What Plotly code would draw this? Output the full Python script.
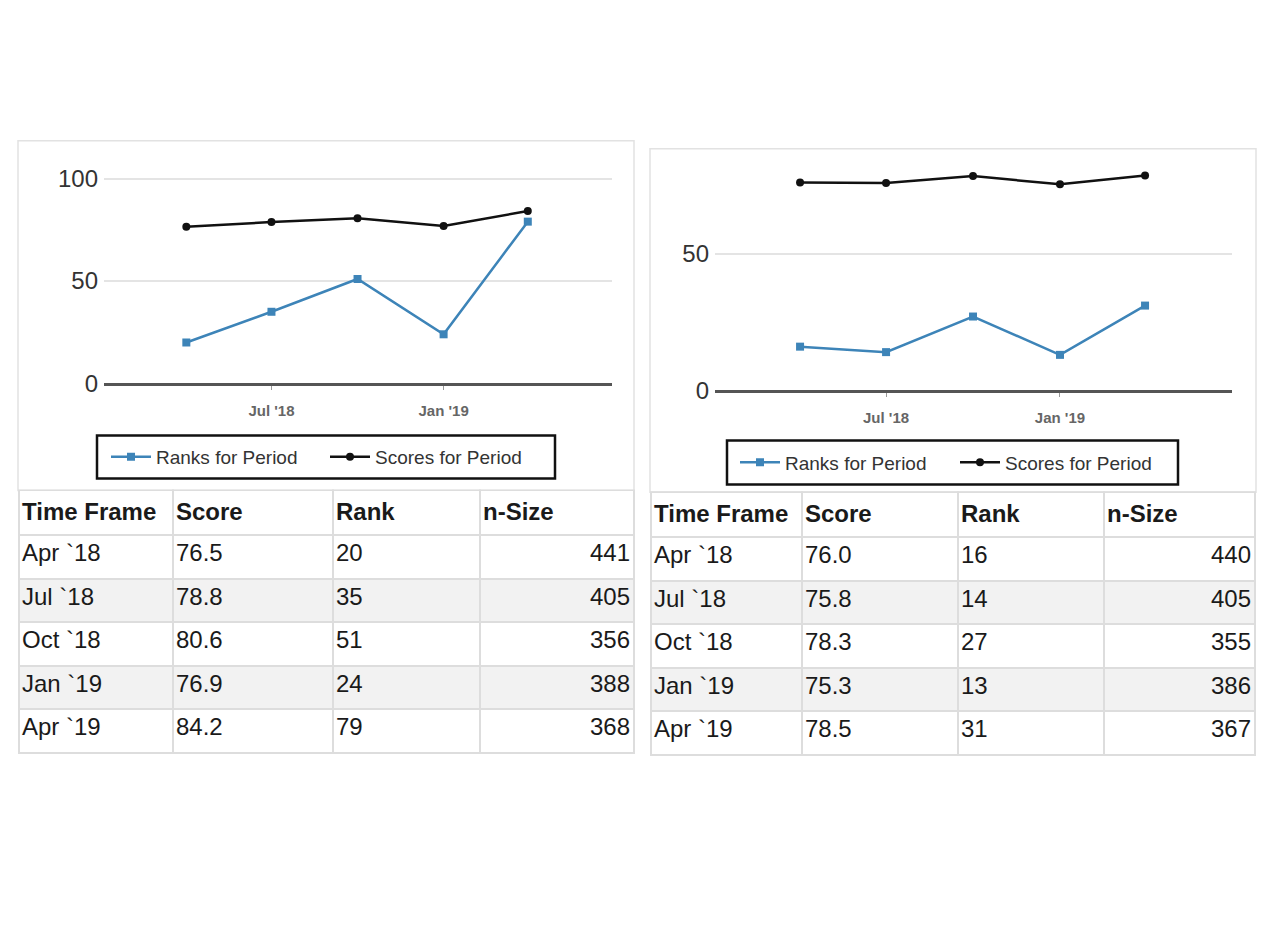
import plotly.graph_objects as go

# ---------------- data ----------------
period_dates = ["2018-04-01", "2018-07-01", "2018-10-01", "2019-01-01", "2019-04-01"]
time_frames = ["Apr `18", "Jul `18", "Oct `18", "Jan `19", "Apr `19"]

left_scores = [76.5, 78.8, 80.6, 76.9, 84.2]
left_ranks = [20, 35, 51, 24, 79]
left_nsize = [441, 405, 356, 388, 368]

right_scores = [76.0, 75.8, 78.3, 75.3, 78.5]
right_ranks = [16, 14, 27, 13, 31]
right_nsize = [440, 405, 355, 386, 367]

x_tick_vals = ["2018-07-01", "2019-01-01"]
x_tick_text = ["Jul '18", "Jan '19"]
left_y_ticks = [0, 50, 100]
right_y_ticks = [0, 50]
table_header = ["Time Frame", "Score", "Rank", "n-Size"]
series_names = ["Ranks for Period", "Scores for Period"]

# ---------------- layout helpers ----------------
PAGE_OFF = 8
W, H = 1262, 900
Y_REF, Y_SCALE = 140, 0.983   # small vertical correction observed in rendering
FONT = "Arial, Liberation Sans, sans-serif"
RANK_COLOR = "#3d84b8"
SCORE_COLOR = "#111111"
GRID_LINE = "#dddddd"


def px_x(p):
    return (p - PAGE_OFF) / W


def px_y(p):
    p = Y_REF + (p - Y_REF) / Y_SCALE
    return 1 - (p - PAGE_OFF) / H


fig = go.Figure()


def add_table(cols_px, ty0, ty1, scores, ranks, nsize):
    rows = len(time_frames)
    fills = ["#ffffff" if r % 2 == 0 else "#f2f2f2" for r in range(rows)]
    widths = [cols_px[i + 1] - cols_px[i] for i in range(4)]
    header_h, cell_h = 45, 43.5
    # grid / fills
    fig.add_trace(go.Table(
        domain=dict(x=[px_x(cols_px[0]), px_x(cols_px[-1])], y=[px_y(ty1), px_y(ty0)]),
        columnwidth=widths,
        header=dict(values=[""] * 4, height=header_h,
                    fill=dict(color="#ffffff"),
                    line=dict(color=GRID_LINE, width=2)),
        cells=dict(values=[[""] * rows] * 4, height=cell_h,
                   fill=dict(color=[fills] * 4),
                   line=dict(color=GRID_LINE, width=2))))
    # text layer with tighter cell padding (columns nudged)
    lshift, rshift = 5, 4
    tw = [widths[0], widths[1], widths[2], widths[3] + lshift + rshift]
    fig.add_trace(go.Table(
        domain=dict(x=[px_x(cols_px[0] - lshift), px_x(cols_px[-1] + rshift)],
                    y=[px_y(ty1), px_y(ty0)]),
        columnwidth=tw,
        header=dict(
            values=["<b>%s</b>" % h.replace(" ", "\u00a0") for h in table_header],
            align="left", height=header_h,
            fill=dict(color="rgba(0,0,0,0)"),
            line=dict(color="rgba(0,0,0,0)", width=0),
            font=dict(family=FONT, size=24, color="#1a1a1a")),
        cells=dict(
            values=[time_frames, ["%.1f" % s for s in scores],
                    [str(r) for r in ranks], [str(n) for n in nsize]],
            align=["left", "left", "left", "right"], height=cell_h,
            fill=dict(color="rgba(0,0,0,0)"),
            line=dict(color="rgba(0,0,0,0)", width=0),
            font=dict(family=FONT, size=24, color="#1a1a1a"))))


def add_chart(idx, scores, ranks, nsize, x_px, y0_px, ppu, y_top, xrange, yticks,
              table_cols, table_y, legend_pos):
    xa = "x" if idx == 1 else "x2"
    ya = "y" if idx == 1 else "y2"
    lg = "legend" if idx == 1 else "legend2"
    fig.add_trace(go.Scatter(
        x=period_dates, y=ranks, name=series_names[0], mode="lines+markers",
        line=dict(color=RANK_COLOR, width=2.5),
        marker=dict(symbol="square", size=8, color=RANK_COLOR),
        xaxis=xa, yaxis=ya, legend=lg, cliponaxis=False))
    fig.add_trace(go.Scatter(
        x=period_dates, y=scores, name=series_names[1], mode="lines+markers",
        line=dict(color=SCORE_COLOR, width=2.5),
        marker=dict(symbol="circle", size=8, color=SCORE_COLOR),
        xaxis=xa, yaxis=ya, legend=lg, cliponaxis=False))

    top_px = y0_px - y_top * ppu
    xkey = "xaxis" if idx == 1 else "xaxis2"
    ykey = "yaxis" if idx == 1 else "yaxis2"
    fig.update_layout(**{
        xkey: dict(
            domain=[px_x(x_px[0]), px_x(x_px[1])], anchor=ya, type="date",
            range=xrange, tickvals=x_tick_vals, ticktext=x_tick_text,
            showgrid=False, showline=True, linecolor="#555555", linewidth=2.5,
            ticks="outside", ticklen=4, tickcolor="#999999", tickwidth=1,
            ticklabelstandoff=8,
            tickfont=dict(family=FONT, size=15, color="#666666", weight="bold"),
            zeroline=False, fixedrange=True),
        ykey: dict(
            domain=[px_y(y0_px), px_y(top_px)], anchor=xa,
            range=[0, y_top], tickvals=yticks, showgrid=True,
            gridcolor="#e4e4e4", gridwidth=2, zeroline=False, showline=False,
            ticklabelstandoff=5,
            tickfont=dict(family=FONT, size=24, color="#333333"),
            ticks="", fixedrange=True),
    })

    # legend box
    lx0, ly0, lx1, ly1 = legend_pos["box"]
    fig.add_shape(type="rect", xref="paper", yref="paper",
                  x0=px_x(lx0), x1=px_x(lx1), y0=px_y(ly0), y1=px_y(ly1),
                  line=dict(color="#111111", width=2.5), fillcolor="rgba(0,0,0,0)")
    fig.update_layout(**{lg: dict(
        orientation="h", x=px_x(legend_pos["x"]), xanchor="left",
        y=px_y((ly0 + ly1) / 2), yanchor="middle",
        itemwidth=40,
        entrywidth=legend_pos["entry"], entrywidthmode="pixels",
        bgcolor="rgba(0,0,0,0)", borderwidth=0,
        font=dict(family=FONT, size=19, color="#333333"))})

    add_table(table_cols, table_y[0], table_y[1], scores, ranks, nsize)


# left panel
add_chart(1, left_scores, left_ranks, left_nsize,
          x_px=(104, 612), y0_px=383, ppu=2.05, y_top=105,
          xrange=["2018-01-03", "2019-06-30"], yticks=left_y_ticks,
          table_cols=[19, 173, 333, 480, 634], table_y=(490, 775),
          legend_pos=dict(box=(97, 435, 555, 478), x=106, entry=164))

# right panel
add_chart(2, right_scores, right_ranks, right_nsize,
          x_px=(715, 1232), y0_px=390, ppu=2.74, y_top=82,
          xrange=["2018-01-01", "2019-07-02"], yticks=right_y_ticks,
          table_cols=[651, 802, 958, 1104, 1255], table_y=(492, 777),
          legend_pos=dict(box=(727, 440, 1178, 484), x=735, entry=165))

# panel outlines around chart areas
for (x0, y0, x1, y1) in [(18, 140, 634, 490), (650, 148, 1256, 492)]:
    fig.add_shape(type="rect", xref="paper", yref="paper",
                  x0=px_x(x0), x1=px_x(x1), y0=px_y(y1), y1=px_y(y0),
                  line=dict(color="#e2e2e2", width=1.5), layer="below")

fig.update_layout(
    width=W, height=H, margin=dict(l=0, r=0, t=0, b=0),
    paper_bgcolor="#ffffff", plot_bgcolor="#ffffff",
    showlegend=True, font=dict(family=FONT))

fig.write_html("out.html")
